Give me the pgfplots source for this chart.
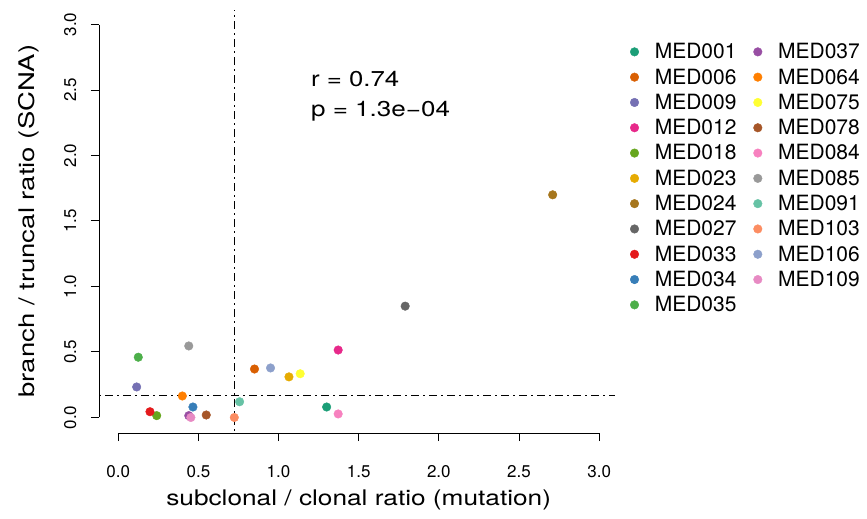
\documentclass[border=0pt]{standalone}
\usepackage{fontspec}
\setmainfont{TeX Gyre Heros}
\usepackage{pgfplots}
\pgfplotsset{compat=1.18}
% Dark2
\definecolor{m001}{HTML}{1B9E77}
\definecolor{m006}{HTML}{D95F02}
\definecolor{m009}{HTML}{7570B3}
\definecolor{m012}{HTML}{E7298A}
\definecolor{m018}{HTML}{66A61E}
\definecolor{m023}{HTML}{E6AB02}
\definecolor{m024}{HTML}{A6761D}
\definecolor{m027}{HTML}{666666}
% Set1
\definecolor{m033}{HTML}{E41A1C}
\definecolor{m034}{HTML}{377EB8}
\definecolor{m035}{HTML}{4DAF4A}
\definecolor{m037}{HTML}{984EA3}
\definecolor{m064}{HTML}{FF7F00}
\definecolor{m075}{HTML}{FFFF33}
\definecolor{m078}{HTML}{A65628}
\definecolor{m084}{HTML}{F781BF}
\definecolor{m085}{HTML}{999999}
% Set2
\definecolor{m091}{HTML}{66C2A5}
\definecolor{m103}{HTML}{FC8D62}
\definecolor{m106}{HTML}{8DA0CB}
\definecolor{m109}{HTML}{E78AC3}

\newcommand{\bigfont}{\fontsize{21.5bp}{25bp}\selectfont}
\newcommand{\legfont}{\fontsize{21bp}{25bp}\selectfont}
\newcommand{\tickfont}{\fontsize{17bp}{20bp}\selectfont}

\pgfplotsset{
  pt/.style={forget plot, only marks, mark=*, mark size=4.3bp, color=#1},
  li/.style={only marks, mark=*, mark size=4.3bp, color=#1},
  refline/.style={forget plot, black, line width=1.3bp,
                  dash pattern=on 1.5bp off 4.5bp on 7.5bp off 4.5bp},
}

\begin{document}
\begin{tikzpicture}
\useasboundingbox (0,0) rectangle (867bp,519bp);
\begin{axis}[
  at={(99bp,85.8bp)}, anchor=south west,
  scale only axis, width=519.4bp, height=424.4bp,
  xmin=-0.12, xmax=3.12, ymin=-0.12, ymax=3.12,
  axis x line*=bottom, axis y line*=left,
  axis line style={draw=none},
  tick align=outside, major tick length=8bp,
  tick style={black, line width=1bp},
  xtick={0,0.5,1,1.5,2,2.5,3}, ytick={0,0.5,1,1.5,2,2.5,3},
  xticklabels={0.0,0.5,1.0,1.5,2.0,2.5,3.0},
  yticklabels={0.0,0.5,1.0,1.5,2.0,2.5,3.0},
  xticklabel style={font=\tickfont, anchor=north, yshift=-21bp},
  yticklabel style={font=\tickfont, rotate=90, anchor=south, yshift=11bp},
  xlabel={\scalebox{1.22}[1]{subclonal / clonal ratio (mutation)}},
  ylabel={\scalebox{1.28}[1]{branch / truncal ratio (SCNA)}},
  xlabel style={font=\bigfont, at={(axis description cs:0.5,-0.157)}, anchor=center},
  ylabel style={font=\bigfont, at={(axis description cs:-0.135,0.5)}, anchor=center},
  clip=false,
  legend columns=2,
  legend cell align=left,
  legend image code/.code={\draw[mark repeat=2,mark phase=2,#1]
      plot coordinates {(0bp,0bp) (8bp,0bp) (16bp,0bp)};},
  legend style={at={(axis description cs:1.0166,0.9335)}, anchor=north west,
    draw=none, fill=none, font=\legfont,
    nodes={inner sep=1bp, minimum height=25.3bp},
    row sep=0bp,
    /tikz/every odd column/.append style={column sep=15bp},
    /tikz/every even column/.append style={column sep=16bp}},
]
% data points
\addplot[pt=m001] coordinates {(1.300,0.080)};
\addplot[pt=m006] coordinates {(0.850,0.370)};
\addplot[pt=m009] coordinates {(0.115,0.233)};
\addplot[pt=m012] coordinates {(1.372,0.515)};
\addplot[pt=m018] coordinates {(0.240,0.014)};
\addplot[pt=m023] coordinates {(1.065,0.310)};
\addplot[pt=m024] coordinates {(2.710,1.700)};
\addplot[pt=m027] coordinates {(1.790,0.850)};
\addplot[pt=m033] coordinates {(0.198,0.044)};
\addplot[pt=m034] coordinates {(0.466,0.080)};
\addplot[pt=m035] coordinates {(0.125,0.460)};
\addplot[pt=m037] coordinates {(0.440,0.014)};
\addplot[pt=m064] coordinates {(0.400,0.164)};
\addplot[pt=m075] coordinates {(1.135,0.334)};
\addplot[pt=m078] coordinates {(0.549,0.019)};
\addplot[pt=m084] coordinates {(1.372,0.027)};
\addplot[pt=m085] coordinates {(0.440,0.546)};
\addplot[pt=m091] coordinates {(0.757,0.120)};
\addplot[pt=m103] coordinates {(0.724,0.000)};
\addplot[pt=m106] coordinates {(0.950,0.378)};
\addplot[pt=m109] coordinates {(0.453,0.000)};
% reference lines
\addplot[refline] coordinates {(0.724,-0.10) (0.724,3.11)};
\addplot[refline] coordinates {(-0.12,0.166) (3.10,0.166)};
% axis lines (R style, 0..3 only)
\draw[line width=1bp] (axis cs:0,-0.12) -- (axis cs:3,-0.12);
\draw[line width=1bp] (axis cs:-0.12,0) -- (axis cs:-0.12,3);
% annotation
\node[font=\bigfont, anchor=base west, inner sep=0pt] at (axis cs:1.202,2.525)
  {\scalebox{1.2}[1]{r = 0.74}};
\node[font=\bigfont, anchor=base west, inner sep=0pt] at (axis cs:1.202,2.296)
  {\scalebox{1.21}[1]{p = 1.3e−04}};
% legend, filled row by row
\addlegendimage{li=m001}\addlegendentry{MED001}
\addlegendimage{li=m037}\addlegendentry{MED037}
\addlegendimage{li=m006}\addlegendentry{MED006}
\addlegendimage{li=m064}\addlegendentry{MED064}
\addlegendimage{li=m009}\addlegendentry{MED009}
\addlegendimage{li=m075}\addlegendentry{MED075}
\addlegendimage{li=m012}\addlegendentry{MED012}
\addlegendimage{li=m078}\addlegendentry{MED078}
\addlegendimage{li=m018}\addlegendentry{MED018}
\addlegendimage{li=m084}\addlegendentry{MED084}
\addlegendimage{li=m023}\addlegendentry{MED023}
\addlegendimage{li=m085}\addlegendentry{MED085}
\addlegendimage{li=m024}\addlegendentry{MED024}
\addlegendimage{li=m091}\addlegendentry{MED091}
\addlegendimage{li=m027}\addlegendentry{MED027}
\addlegendimage{li=m103}\addlegendentry{MED103}
\addlegendimage{li=m033}\addlegendentry{MED033}
\addlegendimage{li=m106}\addlegendentry{MED106}
\addlegendimage{li=m034}\addlegendentry{MED034}
\addlegendimage{li=m109}\addlegendentry{MED109}
\addlegendimage{li=m035}\addlegendentry{MED035}
\end{axis}
\end{tikzpicture}
\end{document}
